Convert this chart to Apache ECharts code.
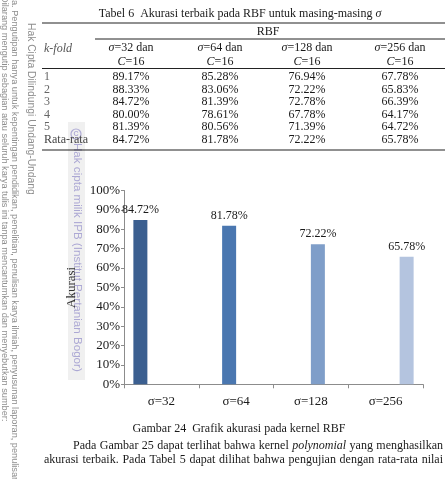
<!DOCTYPE html>
<html><head><meta charset="utf-8">
<script src="https://cdn.jsdelivr.net/npm/echarts@6/dist/echarts.min.js"></script>
<style>html,body{margin:0;padding:0;background:#fff;}#c{width:445px;height:479px;}</style>
</head><body><div id="c"></div>
<script>
// ---- chart data ----
const categories = ['σ=32', 'σ=64', 'σ=128', 'σ=256'];
const accuracy = [84.72, 81.78, 72.22, 65.78];
const barColors = ['#3b5f90', '#4a77b0', '#7f9ec9', '#b4c4df'];
const yAxisName = 'Akurasi';

// ---- table data ----
const tableTitle = 'Tabel 6  Akurasi terbaik pada RBF untuk masing-masing ';
const tableGroup = 'RBF';
const sigmaValues = ['32', '64', '128', '256'];
const cValue = '16';
const kfoldLabels = ['1', '2', '3', '4', '5', 'Rata-rata'];
const col32 = [89.17, 88.33, 84.72, 80.00, 81.39, 84.72];
const col64 = [85.28, 83.06, 81.39, 78.61, 80.56, 81.78];
const col128 = [76.94, 72.22, 72.78, 67.78, 71.39, 72.22];
const col256 = [67.78, 65.83, 66.39, 64.17, 64.72, 65.78];

// ---- page texts ----
const caption = 'Gambar 24  Grafik akurasi pada kernel RBF';
const para1 = ['Pada', 'Gambar', '25', 'dapat', 'terlihat', 'bahwa', 'kernel', '*polynomial', 'yang', 'menghasilkan'];
const para2 = ['akurasi', 'terbaik.', 'Pada', 'Tabel', '5', 'dapat', 'dilihat', 'bahwa', 'pengujian', 'dengan', 'rata-rata', 'nilai'];
const wm1 = 'Dilarang mengutip sebagian atau seluruh karya tulis ini tanpa mencantumkan dan menyebutkan sumber:';
const wm2 = 'a. Pengutipan hanya untuk kepentingan pendidikan, penelitian, penulisan karya ilmiah, penyusunan laporan, penulisan kritik atau tinjauan suatu masalah';
const wm3 = 'Hak Cipta Dilindungi Undang-Undang';
const wm4 = 'Hak cipta milik IPB (Institut Pertanian Bogor)';

const SERIF = 'Liberation Serif';
const ink = '#1a1a1a';
const cv = document.createElement('canvas').getContext('2d');
function measure(t, font) { cv.font = font; return cv.measureText(t).width; }

const g = [];
// watermark band + texts
g.push({type:'rect', z:-10, shape:{x:68, y:122, width:17, height:258}, style:{fill:'#f0f0f0'}});
g.push({type:'text', x:5, y:-4, rotation:-Math.PI/2, style:{text:wm1, font:'9.2px "Liberation Sans"', fill:'#8e8e8e', textAlign:'left', textVerticalAlign:'middle'}});
g.push({type:'text', x:14.5, y:0, rotation:-Math.PI/2, style:{text:wm2, font:'9.2px "Liberation Sans"', fill:'#8e8e8e', textAlign:'left', textVerticalAlign:'middle'}});
g.push({type:'text', x:31, y:23, rotation:-Math.PI/2, style:{text:wm3, font:'10.3px "Liberation Sans"', fill:'#8e8e8e', textAlign:'left', textVerticalAlign:'middle'}});
g.push({type:'circle', shape:{cx:76, cy:134, r:5}, style:{fill:'none', stroke:'#b0acd6', lineWidth:1.2}});
g.push({type:'text', x:76, y:134, style:{text:'C', font:'bold 7px "Liberation Sans"', fill:'#b0acd6', textAlign:'center', textVerticalAlign:'middle'}});
g.push({type:'text', x:77, y:143, rotation:-Math.PI/2, style:{text:wm4, font:'11.6px "Liberation Sans"', fill:'#aca8d4', textAlign:'left', textVerticalAlign:'middle'}});

// table
const tf = '12px "' + SERIF + '"';
const rich = {i:{fontStyle:'italic', fontFamily:SERIF, fontSize:12, fill:ink}, n:{fontFamily:SERIF, fontSize:12, fill:ink}};
g.push({type:'text', x:240, y:14, style:{text:'{n|' + tableTitle + '}{i|σ}', rich:rich, textAlign:'center', textVerticalAlign:'middle'}});
g.push({type:'line', shape:{x1:42, y1:23, x2:445, y2:23}, style:{stroke:'#222', lineWidth:1.2}});
g.push({type:'text', x:268, y:31.5, style:{text:tableGroup, font:tf, fill:ink, textAlign:'center', textVerticalAlign:'middle'}});
g.push({type:'line', shape:{x1:95, y1:39, x2:445, y2:39}, style:{stroke:'#222', lineWidth:1}});
g.push({type:'text', x:44, y:49, style:{text:'k-fold', font:'italic 12px "' + SERIF + '"', fill:'#555', textAlign:'left', textVerticalAlign:'middle'}});
const colX = [131, 220, 307, 400];
const cols = [col32, col64, col128, col256];
sigmaValues.forEach((s, i) => {
  g.push({type:'text', x:colX[i], y:48, style:{text:'{i|σ}{n|=' + s + ' dan}', rich:rich, textAlign:'center', textVerticalAlign:'middle'}});
  g.push({type:'text', x:colX[i], y:61.5, style:{text:'{i|C}{n|=' + cValue + '}', rich:rich, textAlign:'center', textVerticalAlign:'middle'}});
});
g.push({type:'line', shape:{x1:42, y1:68.5, x2:445, y2:68.5}, style:{stroke:'#222', lineWidth:1}});
kfoldLabels.forEach((k, r) => {
  const y = 77 + r * 12.5;
  g.push({type:'text', x:44, y:y, style:{text:k, font:tf, fill: r < 5 ? '#666' : '#444', textAlign:'left', textVerticalAlign:'middle'}});
  cols.forEach((c, i) => {
    g.push({type:'text', x:colX[i], y:y, style:{text:c[r].toFixed(2) + '%', font:tf, fill:ink, textAlign:'center', textVerticalAlign:'middle'}});
  });
});
g.push({type:'line', shape:{x1:42, y1:150, x2:445, y2:150}, style:{stroke:'#222', lineWidth:1.2}});

// caption
g.push({type:'text', x:239, y:429, style:{text:caption, font:tf, fill:ink, textAlign:'center', textVerticalAlign:'middle'}});

// justified paragraph lines
function justify(words, x0, x1, y) {
  const fonts = words.map(w => (w[0] === '*' ? 'italic ' : '') + '12px "' + SERIF + '"');
  const txt = words.map(w => w[0] === '*' ? w.slice(1) : w);
  const ws = txt.map((t, i) => measure(t, fonts[i]));
  const total = ws.reduce((a, b) => a + b, 0);
  const gap = (x1 - x0 - total) / (words.length - 1);
  let x = x0;
  txt.forEach((t, i) => {
    g.push({type:'text', x:x, y:y, style:{text:t, font:fonts[i], fill:ink, textAlign:'left', textVerticalAlign:'middle'}});
    x += ws[i] + gap;
  });
}
justify(para1, 73, 443, 446);
justify(para2, 44, 443, 459.5);

const chart = echarts.init(document.getElementById('c'), null, {renderer:'canvas'});
chart.setOption({
  animation:false,
  backgroundColor:'#fff',
  grid:{left:124, right:22, top:190.5, bottom:94.7, containLabel:false},
  xAxis:{type:'category', data:categories, boundaryGap:true,
    axisLine:{lineStyle:{color:'#8c8c8c'}},
    axisTick:{show:true, length:4, lineStyle:{color:'#8c8c8c'}},
    axisLabel:{fontFamily:SERIF, fontSize:13, color:ink, margin:11}},
  yAxis:{type:'value', min:0, max:100, interval:10,
    name:yAxisName, nameLocation:'middle', nameGap:46, nameRotate:90,
    nameTextStyle:{fontFamily:SERIF, fontSize:13, color:'#333'},
    axisLine:{show:true, lineStyle:{color:'#8c8c8c'}},
    axisTick:{show:true, length:3, lineStyle:{color:'#8c8c8c'}},
    splitLine:{show:false},
    axisLabel:{formatter:'{value}%', fontFamily:SERIF, fontSize:13, color:ink, margin:4}},
  series: accuracy.map((v, i) => ({
    type:'bar', name:categories[i],
    data: categories.map((c, j) => j === i ? v : '-'),
    barWidth:14, barGap:'0%',
    itemStyle:{color:barColors[i]},
    label:{show:true, position:'top', distance:4, formatter:p => p.value.toFixed(2) + '%',
      fontFamily:SERIF, fontSize:12, color:ink}
  })),
  graphic: g
});
</script></body></html>
